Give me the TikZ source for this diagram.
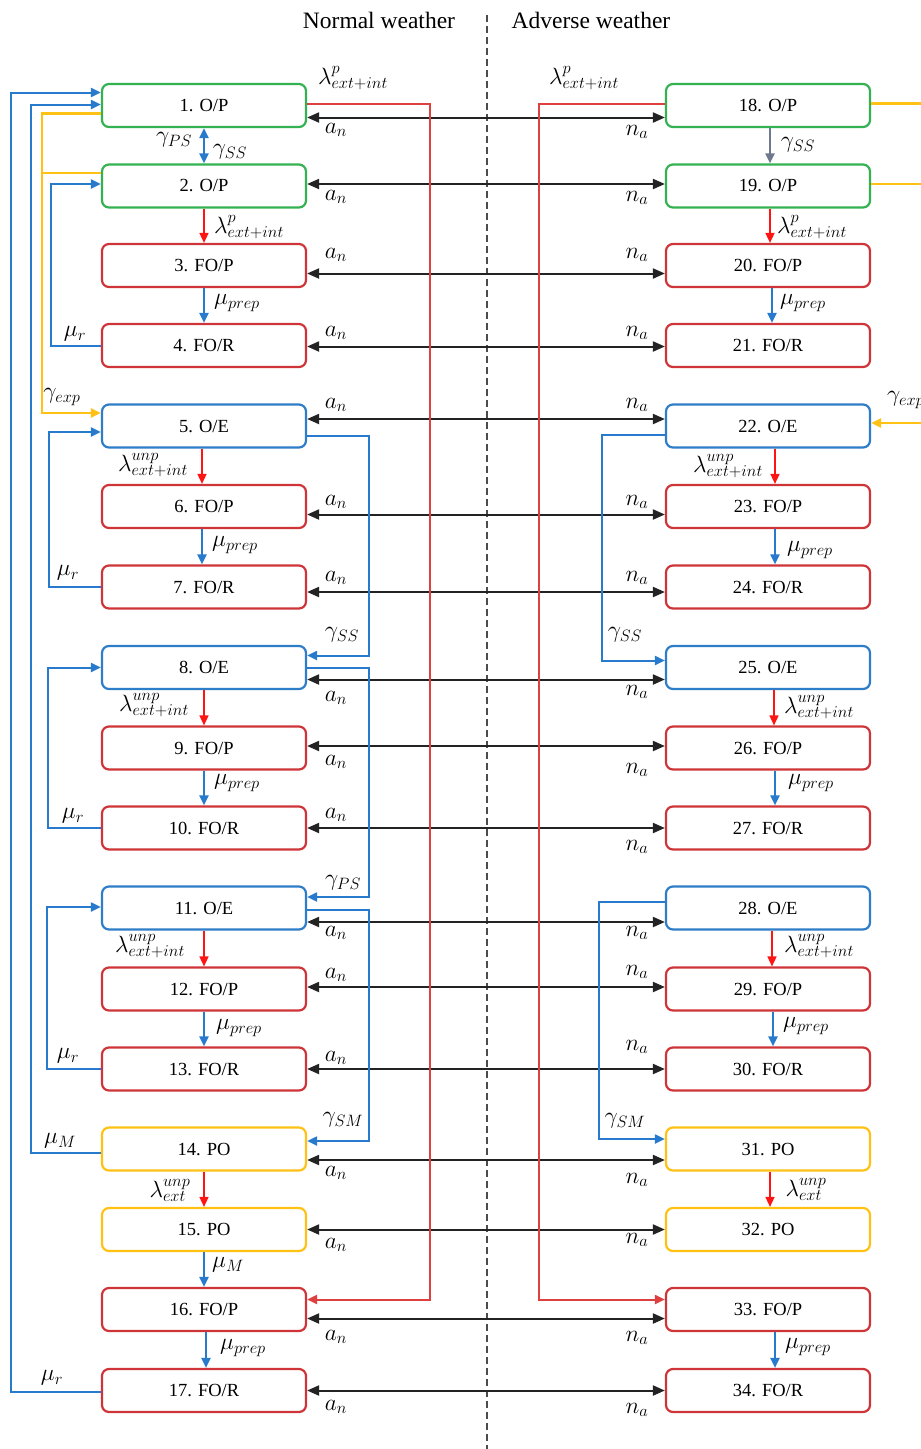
\RequirePackage{fix-cm}
\documentclass[tikz,border=0pt]{standalone}
\usepackage{fontspec}
\setmainfont{Liberation Serif}
\usetikzlibrary{arrows.meta}
\definecolor{cgreen}{RGB}{52,178,82}
\definecolor{cred}{RGB}{206,52,56}
\definecolor{cblue}{RGB}{46,125,200}
\definecolor{cyellow}{RGB}{255,194,20}
\definecolor{lred}{RGB}{222,64,64}
\definecolor{bred}{RGB}{255,20,20}
\definecolor{lblue}{RGB}{40,122,205}
\definecolor{slate}{RGB}{75,88,112}
\definecolor{dgray}{RGB}{35,35,35}
\begin{document}
\begin{tikzpicture}[x=1pt,y=-1pt,
  box/.style={draw,fill=white,rounded corners=7pt,minimum width=204pt,minimum height=43pt,line width=2.2pt,inner sep=0pt,font=\fontsize{18.5}{20}\selectfont},
  gb/.style={box,draw=cgreen},
  rb/.style={box,draw=cred},
  bb/.style={box,draw=cblue},
  yb/.style={box,draw=cyellow},
  lab/.style={inner sep=0pt,font=\fontsize{23.5}{26}\selectfont},
  tip/.style={-{Triangle[length=10pt,width=9pt]}},
  bi/.style={{Triangle[length=12pt,width=10pt]}-{Triangle[length=12pt,width=10pt]},line width=2pt,draw=dgray},
  bl/.style={line width=2pt,draw=lblue},
  rd/.style={line width=1.6pt,draw=bred},
  lr/.style={line width=2pt,draw=lred},
  yl/.style={line width=2.2pt,draw=cyellow},
]
\useasboundingbox (0,0) rectangle (921,1449);

% headers and divider
\node[font=\fontsize{23.5}{26}\selectfont] (hN) at (379,20) {Normal weather};
\node[font=\fontsize{23.5}{26}\selectfont] (hA) at (591,20) {Adverse weather};
\coordinate (d1) at (487,15);
\coordinate (d2) at (487,1449);
\draw[line width=2pt,draw=gray!60!black,dash pattern=on 7pt off 4pt] (d1) -- (d2);

% left boxes
\node[gb] (L1) at (204,105.5) {1. O/P};
\node[gb] (L2) at (204,186) {2. O/P};
\node[rb] (L3) at (204,265.5) {3. FO/P};
\node[rb] (L4) at (204,345.5) {4. FO/R};
\node[bb] (L5) at (204,426) {5. O/E};
\node[rb] (L6) at (204,506.5) {6. FO/P};
\node[rb] (L7) at (204,587) {7. FO/R};
\node[bb] (L8) at (204,667.5) {8. O/E};
\node[rb] (L9) at (204,748) {9. FO/P};
\node[rb] (L10) at (204,828) {10. FO/R};
\node[bb] (L11) at (204,908) {11. O/E};
\node[rb] (L12) at (204,989) {12. FO/P};
\node[rb] (L13) at (204,1069) {13. FO/R};
\node[yb] (L14) at (204,1149) {14. PO};
\node[yb] (L15) at (204,1229.5) {15. PO};
\node[rb] (L16) at (204,1309.5) {16. FO/P};
\node[rb] (L17) at (204,1390.5) {17. FO/R};

% right boxes
\node[gb] (R1) at (768,105.5) {18. O/P};
\node[gb] (R2) at (768,186) {19. O/P};
\node[rb] (R3) at (768,265.5) {20. FO/P};
\node[rb] (R4) at (768,345.5) {21. FO/R};
\node[bb] (R5) at (768,426) {22. O/E};
\node[rb] (R6) at (768,506.5) {23. FO/P};
\node[rb] (R7) at (768,587) {24. FO/R};
\node[bb] (R8) at (768,667.5) {25. O/E};
\node[rb] (R9) at (768,748) {26. FO/P};
\node[rb] (R10) at (768,828) {27. FO/R};
\node[bb] (R11) at (768,908) {28. O/E};
\node[rb] (R12) at (768,989) {29. FO/P};
\node[rb] (R13) at (768,1069) {30. FO/R};
\node[yb] (R14) at (768,1149) {31. PO};
\node[yb] (R15) at (768,1229.5) {32. PO};
\node[rb] (R16) at (768,1309.5) {33. FO/P};
\node[rb] (R17) at (768,1390.5) {34. FO/R};

% black double arrows between weather states
\foreach \i/\off/\ay/\ny in {1/12/130/132, 2/-2/197/198, 3/8/255/255, 4/1/333/333,
  5/-7/405/405, 6/8/502/502, 7/5/578/578, 8/12/698/692, 9/-2/762/770, 10/0/815/847,
  11/14/933/933, 12/-2/975/972, 13/0/1058/1047, 14/11/1173/1180, 15/0/1245/1240,
  16/9/1337/1338, 17/0/1407/1410}{
  \draw[bi] ([yshift=-\off pt]L\i.east) -- ([yshift=-\off pt]R\i.west);
  \node[lab] (an\i) at (336,\ay) {$a_n$};
  \node[lab] (na\i) at (637,\ny) {$n_a$};
}

% long red lines
\draw[lr,tip] ([yshift=2pt]L1.east) -- ++(123,0) |- ([yshift=10pt]L16.east);
\draw[lr,tip] ([yshift=2pt]R1.west) -- ++(-126,0) |- ([yshift=10pt]R16.west);
\node[lab] (lpL) at (353,78) {$\lambda^{p}_{ext+int}$};
\node[lab] (lpR) at (584,78) {$\lambda^{p}_{ext+int}$};

% left column vertical transitions
\draw[bl,{Triangle[length=10pt,width=9pt]}-{Triangle[length=10pt,width=9pt]}] (L1.south) -- (L2.north);
\node[lab] (gPS1) at (174,140) {$\gamma_{PS}$};
\node[lab] (gSS1) at (230,152) {$\gamma_{SS}$};
\draw[rd,tip] (L2.south) -- (L3.north);
\node[lab] (lp2) at (249,227) {$\lambda^{p}_{ext+int}$};
\draw[bl,tip] (L3.south) -- (L4.north);
\node[lab] (mp3) at (237,303) {$\mu_{prep}$};
\draw[rd,tip] ([xshift=-2pt]L5.south) -- ([xshift=-2pt]L6.north);
\node[lab] (lu5) at (153,465) {$\lambda^{unp}_{ext+int}$};
\draw[bl,tip] ([xshift=-2pt]L6.south) -- ([xshift=-2pt]L7.north);
\node[lab] (mp6) at (235,545) {$\mu_{prep}$};
\draw[rd,tip] (L8.south) -- (L9.north);
\node[lab] (lu8) at (154,705) {$\lambda^{unp}_{ext+int}$};
\draw[bl,tip] (L9.south) -- (L10.north);
\node[lab] (mp9) at (237,783) {$\mu_{prep}$};
\draw[rd,tip] (L11.south) -- (L12.north);
\node[lab] (lu11) at (150,946) {$\lambda^{unp}_{ext+int}$};
\draw[bl,tip] (L12.south) -- (L13.north);
\node[lab] (mp12) at (239,1028) {$\mu_{prep}$};
\draw[rd,tip] (L14.south) -- (L15.north);
\node[lab] (lu14) at (170,1190) {$\lambda^{unp}_{ext}$};
\draw[bl,tip] (L15.south) -- (L16.north);
\node[lab] (mM15) at (228,1265) {$\mu_{M}$};
\draw[bl,tip] ([xshift=2pt]L16.south) -- ([xshift=2pt]L17.north);
\node[lab] (mp16) at (243,1348) {$\mu_{prep}$};

% left loops (repair back to operation)
\draw[bl,tip] (L4.west) -- ++(-50,0) |- ([yshift=2pt]L2.west);
\node[lab] (mr4) at (75,334) {$\mu_{r}$};
\draw[bl,tip] (L7.west) -- ++(-52,0) |- ([yshift=-6pt]L5.west);
\node[lab] (mr7) at (68,573) {$\mu_{r}$};
\draw[bl,tip] (L10.west) -- ++(-53,0) |- (L8.west);
\node[lab] (mr10) at (73,816) {$\mu_{r}$};
\draw[bl,tip] (L13.west) -- ++(-54,0) |- ([yshift=1pt]L11.west);
\node[lab] (mr13) at (68,1056) {$\mu_{r}$};
\draw[bl,tip] ([yshift=-1pt]L17.west) -- ++(-90,0) |- ([yshift=13pt]L1.west);
\node[lab] (mr17) at (52,1378) {$\mu_{r}$};
\draw[bl,tip] ([yshift=-4pt]L14.west) -- ++(-70,0) |- ([yshift=1pt]L1.west);
\node[lab] (mM14) at (60,1141) {$\mu_{M}$};

% yellow exposure lines (left)
\draw[yl,tip] ([yshift=-8pt]L1.west) -- ++(-59,0) |- ([yshift=13pt]L5.west);
\draw[yl] ([yshift=13pt]L2.west) -- ++(-59,0);
\node[lab] (gexpL) at (62,397) {$\gamma_{exp}$};

% switching lines right of left column
\draw[bl,tip] ([yshift=-10pt]L5.east) -- ++(62,0) |- ([yshift=12pt]L8.east);
\node[lab] (gSS5) at (342,635) {$\gamma_{SS}$};
\draw[bl,tip] (L8.east) -- ++(62,0) |- ([yshift=11pt]L11.east);
\node[lab] (gPS8) at (343,883) {$\gamma_{PS}$};
\draw[bl,tip] ([yshift=-2pt]L11.east) -- ++(62,0) |- ([yshift=8pt]L14.east);
\node[lab] (gSM11) at (343,1120) {$\gamma_{SM}$};

% right column vertical transitions
\draw[line width=2pt,draw=slate!80,tip] ([xshift=2pt]R1.south) -- ([xshift=2pt]R2.north);
\node[lab] (gSS18) at (798,145) {$\gamma_{SS}$};
\draw[rd,tip] ([xshift=2pt]R2.south) -- ([xshift=2pt]R3.north);
\node[lab] (lp19) at (812,227) {$\lambda^{p}_{ext+int}$};
\draw[bl,tip] ([xshift=4pt]R3.south) -- ([xshift=4pt]R4.north);
\node[lab] (mp20) at (803,303) {$\mu_{prep}$};
\draw[rd,tip] ([xshift=7pt]R5.south) -- ([xshift=7pt]R6.north);
\node[lab] (lu22) at (728,466) {$\lambda^{unp}_{ext+int}$};
\draw[bl,tip] ([xshift=7pt]R6.south) -- ([xshift=7pt]R7.north);
\node[lab] (mp23) at (810,550) {$\mu_{prep}$};
\draw[rd,tip] ([xshift=6pt]R8.south) -- ([xshift=6pt]R9.north);
\node[lab] (lu25) at (819,707) {$\lambda^{unp}_{ext+int}$};
\draw[bl,tip] ([xshift=7pt]R9.south) -- ([xshift=7pt]R10.north);
\node[lab] (mp26) at (811,783) {$\mu_{prep}$};
\draw[rd,tip] ([xshift=4pt]R11.south) -- ([xshift=4pt]R12.north);
\node[lab] (lu28) at (819,946) {$\lambda^{unp}_{ext+int}$};
\draw[bl,tip] ([xshift=5pt]R12.south) -- ([xshift=5pt]R13.north);
\node[lab] (mp29) at (806,1026) {$\mu_{prep}$};
\draw[rd,tip] ([xshift=2pt]R14.south) -- ([xshift=2pt]R15.north);
\node[lab] (lu31) at (806,1189) {$\lambda^{unp}_{ext}$};
\draw[bl,tip] ([xshift=7pt]R16.south) -- ([xshift=7pt]R17.north);
\node[lab] (mp33) at (808,1347) {$\mu_{prep}$};

% right switching lines
\draw[bl,tip] ([yshift=-9pt]R5.west) -- ++(-63,0) |- ([yshift=7pt]R8.west);
\node[lab] (gSS22) at (625,635) {$\gamma_{SS}$};
\draw[bl,tip] ([yshift=6pt]R11.west) -- ++(-66,0) |- ([yshift=10pt]R14.west);
\node[lab] (gSM28) at (625,1121) {$\gamma_{SM}$};

% yellow exposure lines (right)
\draw[yl] ([yshift=2pt]R1.east) -- ++(60,0);
\draw[yl] ([yshift=2pt]R2.east) -- ++(60,0);
\coordinate (yexpR) at (925,423);
\draw[yl,tip] (yexpR) -- ([yshift=3pt]R5.east);
\node[lab,anchor=west] (gexpR) at (887,400) {$\gamma_{exp}$};
\end{tikzpicture}
\end{document}
